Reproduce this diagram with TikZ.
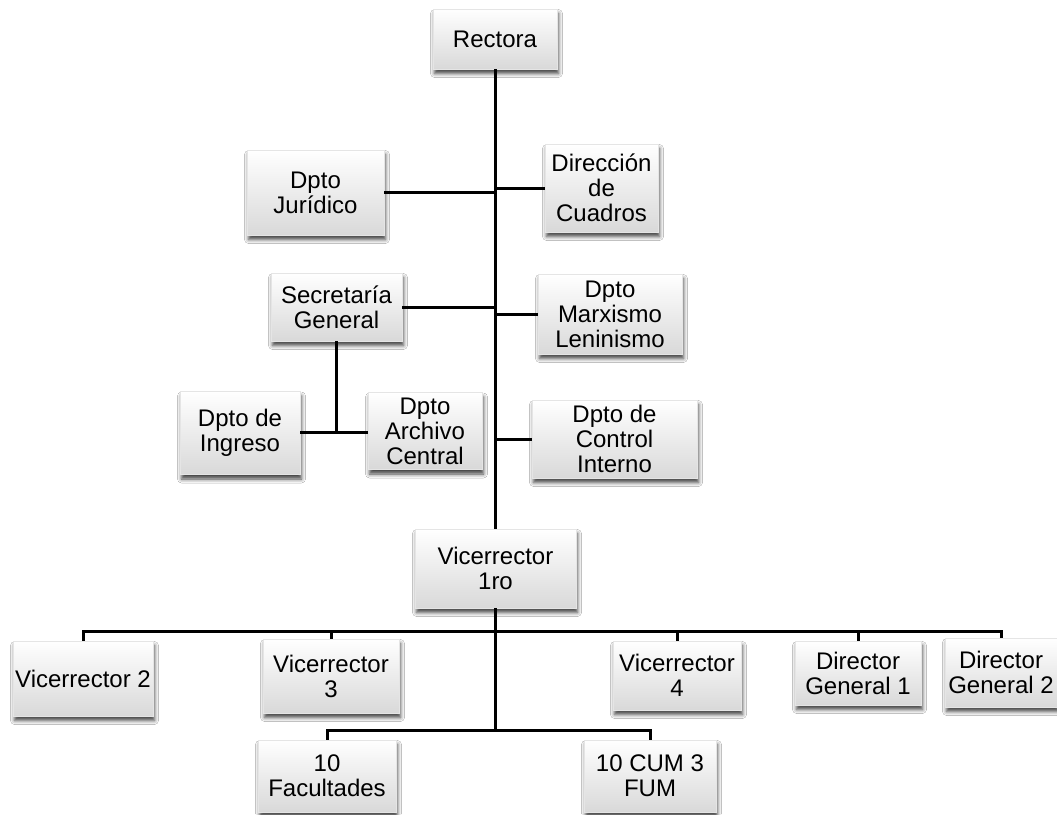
\documentclass[tikz,border=0pt]{standalone}
\usepackage{fontspec}
\setmainfont{Liberation Sans}
\usetikzlibrary{shadows.blur,calc}

\tikzset{
  orgbox/.style={
    rectangle, inner sep=0pt, align=center,
    top color=white, bottom color=black!15,
    draw=black!10, line width=0.4pt,
    blur shadow={shadow xshift=1.5pt, shadow yshift=-4.5pt,
                 shadow blur radius=4pt, shadow opacity=75},
    font=\fontsize{24}{25}\selectfont
  },
  link/.style={line width=3pt, black},
}

\begin{document}
\begin{tikzpicture}[x=1pt, y=-1pt]
  \useasboundingbox (0,0) rectangle (1057,814);
  \fill[white] (0,0) rectangle (1057,814);

  % top-level
  \node[orgbox, minimum width=124pt, minimum height=60pt] (rect) at (495,39) {Rectora};

  % staff departments around the trunk
  \node[orgbox, minimum width=137pt, minimum height=85pt] (jur) at (315.5,192.5) {Dpto\\Jurídico};
  \node[orgbox, minimum width=113pt, minimum height=88pt] (dir) at (601.5,188) {Dirección\\de\\Cuadros};
  \node[orgbox, minimum width=131pt, minimum height=68pt] (sec) at (336.5,307) {Secretaría\\General};
  \node[orgbox, minimum width=144pt, minimum height=80pt] (mar) at (610,314) {Dpto\\Marxismo\\Leninismo};
  \node[orgbox, minimum width=120pt, minimum height=83pt] (ing) at (240,433) {Dpto de\\Ingreso};
  \node[orgbox, minimum width=114pt, minimum height=77pt] (arc) at (425,431) {Dpto\\Archivo\\Central};
  \node[orgbox, minimum width=165pt, minimum height=78pt] (con) at (614.5,439) {Dpto de\\Control\\Interno};

  % first vice-rector
  \node[orgbox, minimum width=161pt, minimum height=79pt] (vr1) at (495.5,568.5) {Vicerrector\\1ro};

  % second level
  \node[orgbox, minimum width=140pt, minimum height=75pt] (vr2) at (83,678.5) {Vicerrector 2};
  \node[orgbox, minimum width=136pt, minimum height=74pt] (vr3) at (331,676) {Vicerrector\\3};
  \node[orgbox, minimum width=128pt, minimum height=69pt] (vr4) at (677,675.5) {Vicerrector\\4};
  \node[orgbox, minimum width=126pt, minimum height=64pt] (dg1) at (858,673) {Director\\General 1};
  \node[orgbox, minimum width=112pt, minimum height=69pt] (dg2) at (1001,672.5) {Director\\General 2};

  % third level
  \node[orgbox, minimum width=138pt, minimum height=72pt] (fac) at (327,776) {10\\Facultades};
  \node[orgbox, minimum width=132pt, minimum height=72pt] (cum) at (650,776) {10 CUM 3\\FUM};

  % main trunk
  \draw[link] (rect.south) -- (rect.south |- vr1.north);

  % branches to the staff departments
  \draw[link] (jur.east) -- (jur.east -| rect.south);
  \draw[link] (dir.west) -- (dir.west -| rect.south);
  \draw[link] (sec.east) -- (sec.east -| rect.south);
  \draw[link] (mar.west) -- (mar.west -| rect.south);
  \draw[link] (con.west) -- (con.west -| rect.south);

  % units under the general secretary
  \coordinate (sj) at (sec.south |- 0,432);
  \draw[link] (sec.south) -- (sj);
  \draw[link] (ing.east |- sj) -- (sj) -- (sj -| arc.west);

  % second level bus
  \coordinate (bus1) at ($(vr1.south)+(0,23)$);
  \draw[link] (vr1.south) -- (bus1);
  \draw[link] (bus1) -| (vr2.north);
  \draw[link] (bus1) -| (vr3.north);
  \draw[link] (bus1) -| (vr4.north);
  \draw[link] (bus1) -| (dg1.north);
  \draw[link] (bus1) -| (dg2.north);

  % third level bus
  \coordinate (bus2) at ($(vr1.south)+(0,122)$);
  \draw[link] (bus1) -- (bus2);
  \draw[link] (bus2) -| (fac.north);
  \draw[link] (bus2) -| (cum.north);
\end{tikzpicture}
\end{document}
